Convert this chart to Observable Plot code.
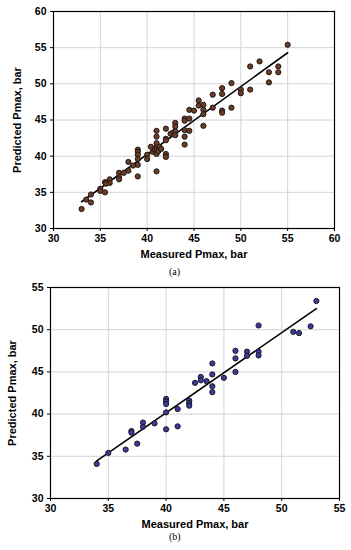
<!DOCTYPE html>
<html>
<head>
<meta charset="utf-8">
<script src="https://cdn.jsdelivr.net/npm/d3@7"></script>
<script src="https://cdn.jsdelivr.net/npm/@observablehq/plot@0.6"></script>
<style>
  html, body { margin: 0; padding: 0; background: #fff; }
  #wrap { position: relative; width: 351px; height: 550px; overflow: hidden; background: #fff; }
  .panel { position: absolute; left: 0; }
  .cap { position: absolute; left: 0; font-family: "Liberation Serif", serif; font-size: 10px; color: #000; }
</style>
</head>
<body>
<div id="wrap">
  <div id="pa" class="panel" style="top:0px"></div>
  <div class="cap" style="top:266px; left:169px">(a)</div>
  <div id="pb" class="panel" style="top:280px"></div>
  <div class="cap" style="top:531px; left:169px">(b)</div>
</div>
<script>
// Panel (a) data
const aMeasured  = [33,33.5,34,34,35,35,35.5,35.5,36,36,35.6,37,37,37,37.5,38,38,38.5,39,39,39,39,39,39,40,40,40.4,40.6,40.8,41,41,41,41,41,41,41,41.2,41.3,41.5,42,42,42,42,42,42.5,42.8,43,43,43,43,44,44,44,44,44,44.5,44.5,44.5,45,45.5,45.5,46,46,46,46,47,47,48,48,48,48,49,49,50,50,51,51,52,53,53,54,54,55];
const aPredicted = [32.7,34.0,34.7,33.6,35.5,35.2,35.0,36.4,36.8,36.3,36.2,37.7,37.1,36.8,37.7,39.2,38.0,38.7,40.9,40.6,40.2,39.6,38.8,37.2,40.2,39.6,41.3,40.6,40.9,41.3,43.5,42.7,41.8,40.9,40.3,37.9,40.7,41.3,41.0,43.8,42.4,42.2,40.3,39.9,43.1,43.3,44.6,44.1,43.4,42.9,45.2,44.9,43.6,42.7,41.6,45.2,46.4,43.5,46.3,47.7,47.0,47.1,46.4,45.8,44.2,48.5,46.7,49.4,48.6,46.3,46.0,50.1,46.7,49.2,48.7,52.4,49.2,53.1,51.6,50.2,52.4,51.6,55.4];
const aFitX = [33, 55];
const aFitY = [33.7, 54.3];
const aTicks = [30, 35, 40, 45, 50, 55, 60];

// Panel (b) data
const bMeasured  = [34,35,36.5,37.5,37,37,38,38,39,40,40,40,40,40,41,41,42,42,42,42.5,43,43,43.5,44,44,44,44,45,46,46,46,47,47,48,48,48,51,51.5,52.5,53];
const bPredicted = [34.1,35.4,35.8,36.5,38.0,37.8,39.0,38.5,38.9,40.2,38.2,41.8,41.5,41.2,40.6,38.55,41.6,41.3,41.0,43.7,44.4,44.0,43.9,46.0,44.7,43.3,42.6,44.3,47.5,46.6,45.0,47.4,46.9,50.5,47.4,46.95,49.75,49.6,50.4,53.4];
const bFitX = [34, 53];
const bFitY = [34.45, 52.5];
const bTicks = [30, 35, 40, 45, 50, 55];

const xLabel = "Measured Pmax, bar";
const yLabel = "Predicted Pmax, bar";

function panel({mx, my, fx, fy, ticks, fill, height, margins, yLabelOffset}) {
  const pts = mx.map((x, i) => ({x, y: my[i]}));
  const fit = fx.map((x, i) => ({x, y: fy[i]}));
  const dom = [ticks[0], ticks[ticks.length - 1]];
  const svg = Plot.plot({
    width: 351,
    height,
    ...margins,
    style: {fontFamily: "'Liberation Sans', Arial, sans-serif", fontSize: "10.5px", fontWeight: "bold", background: "#fff", color: "#000"},
    x: {domain: dom},
    y: {domain: dom},
    marks: [
      Plot.gridX(ticks, {stroke: "#d4d4d4", strokeOpacity: 1, strokeWidth: 1}),
      Plot.gridY(ticks, {stroke: "#d4d4d4", strokeOpacity: 1, strokeWidth: 1}),
      Plot.frame({stroke: "#000", strokeWidth: 1.2}),
      Plot.axisX({ticks, tickSize: 3, tickPadding: 3, label: null, fontWeight: "bold"}),
      Plot.axisY({ticks, tickSize: 3, tickPadding: 4, label: null, fontWeight: "bold"}),
      Plot.axisX({ticks: [], tickSize: 0, label: xLabel, labelAnchor: "center", labelArrow: "none", labelOffset: 29, fontWeight: "bold", fontSize: 11}),
      Plot.axisY({ticks: [], tickSize: 0, label: yLabel, labelAnchor: "center", labelArrow: "none", labelOffset: yLabelOffset, fontWeight: "bold", fontSize: 11}),
      Plot.line(fit, {x: "x", y: "y", stroke: "#000", strokeWidth: 1.6}),
      Plot.dot(pts, {x: "x", y: "y", r: 2.6, fill, stroke: "#1a1a1a", strokeWidth: 1})
    ]
  });
  return svg;
}

document.getElementById("pa").appendChild(panel({
  mx: aMeasured, my: aPredicted, fx: aFitX, fy: aFitY, ticks: aTicks, fill: "#6f3b22",
  height: 262, margins: {marginTop: 11, marginLeft: 53, marginRight: 17, marginBottom: 34}, yLabelOffset: 40
}));
document.getElementById("pb").appendChild(panel({
  mx: bMeasured, my: bPredicted, fx: bFitX, fy: bFitY, ticks: bTicks, fill: "#3a3aa6",
  height: 252, margins: {marginTop: 7, marginLeft: 50, marginRight: 12, marginBottom: 34}, yLabelOffset: 42
}));
</script>
</body>
</html>
